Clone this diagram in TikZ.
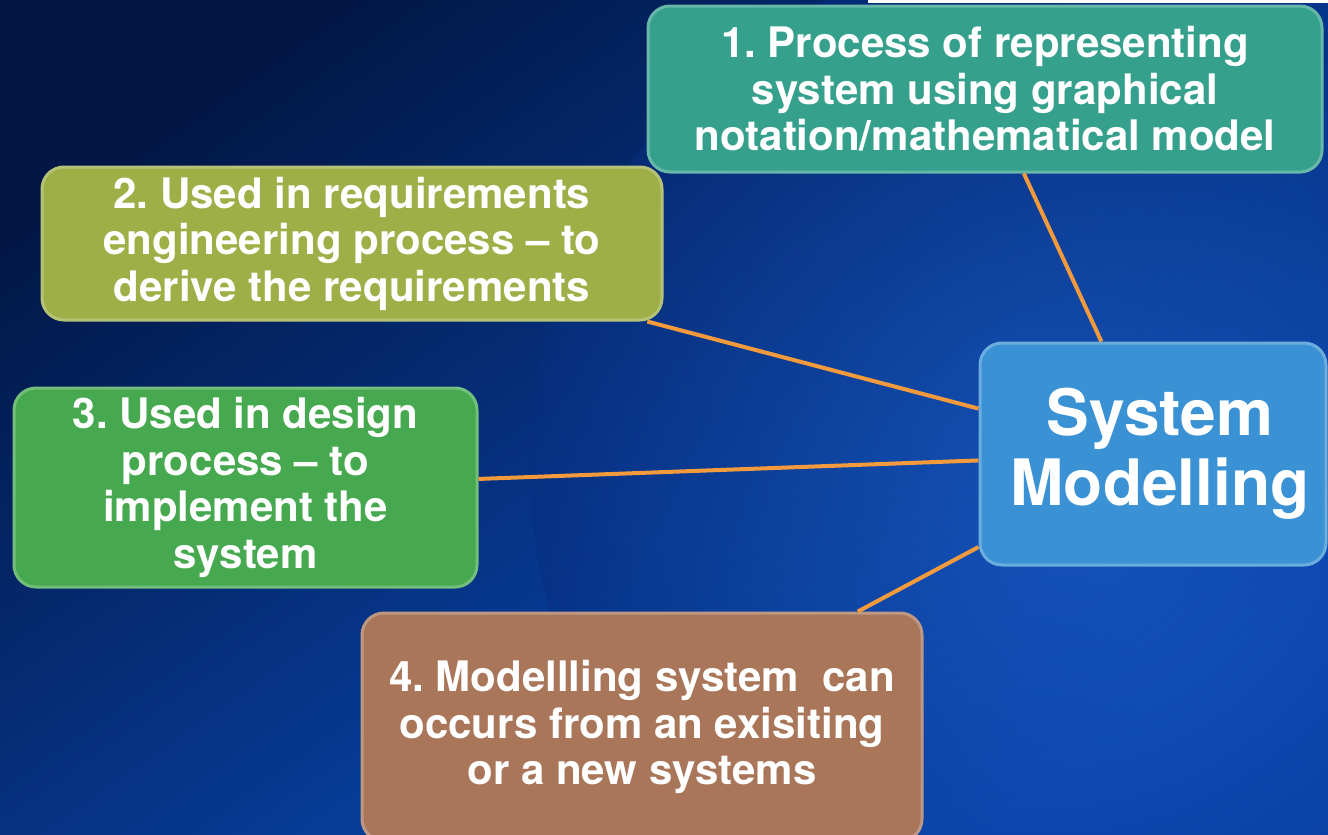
\documentclass[tikz,border=0pt]{standalone}
\usepackage{fontspec}
\setmainfont{TeX Gyre Heros}
\definecolor{bgdark}{HTML}{021746}
\definecolor{bgmid}{HTML}{062F80}
\definecolor{bglight}{HTML}{0A50C4}
\definecolor{cteal}{HTML}{35A08C}
\definecolor{colive}{HTML}{9EAF48}
\definecolor{cgreen}{HTML}{46A950}
\definecolor{cbrown}{HTML}{A9765A}
\definecolor{cblue}{HTML}{3A92D4}
\definecolor{corange}{HTML}{F39A3C}
\tikzset{
  box/.style={rectangle, rounded corners=22pt, draw=#1!75!white, line width=3pt,
    fill=#1, text=white, font=\frenchspacing\bfseries\fontsize{42}{46.5}\selectfont,
    align=center, inner sep=0pt},
  link/.style={draw=corange, line width=4pt}
}
\begin{document}
\begin{tikzpicture}[x=1pt,y=-1pt]
\useasboundingbox (0,0) rectangle (1328,835);
% background
\shade[shading=axis, top color=bgdark, bottom color=bglight, shading angle=35] (0,0) rectangle (1328,835);
\begin{scope}
\clip (0,0) rectangle (1328,835);
\shade[inner color=bglight!90!white, outer color=bgmid, opacity=0.5] (1050,470) circle (520);
\end{scope}
\fill[white] (868,0) rectangle (1328,3);
% nodes
\node[box=cteal, minimum width=674pt, minimum height=166pt] (b1) at (985,89)
  {1. Process of representing\\system using graphical\\notation/mathematical model};
\node[box=colive, minimum width=620pt, minimum height=153pt] (b2) at (352,243.5)
  {2. Used in requirements\\engineering process -- to\\derive the requirements};
\node[box=cgreen, minimum width=463pt, minimum height=199pt] (b3) at (245.5,487.5)
  {3. Used in design\\process -- to\\implement the\\system};
\node[box=cbrown, minimum width=560pt, minimum height=228pt] (b4) at (642,727)
  {4. Modellling system\ \ can\\occurs from an exisiting\\or a new systems};
\node[box=cblue, minimum width=346pt, minimum height=222pt,
  font=\bfseries\fontsize{64}{70}\selectfont] (sm) at (1153,454)
  {\hspace*{14pt}System\\\hspace*{14pt}Modelling};
% connectors
\draw[link] (b1) -- (sm);
\draw[link] (b2) -- (sm);
\draw[link] (b3) -- (sm);
\draw[link] (b4) -- (sm);
\end{tikzpicture}
\end{document}
